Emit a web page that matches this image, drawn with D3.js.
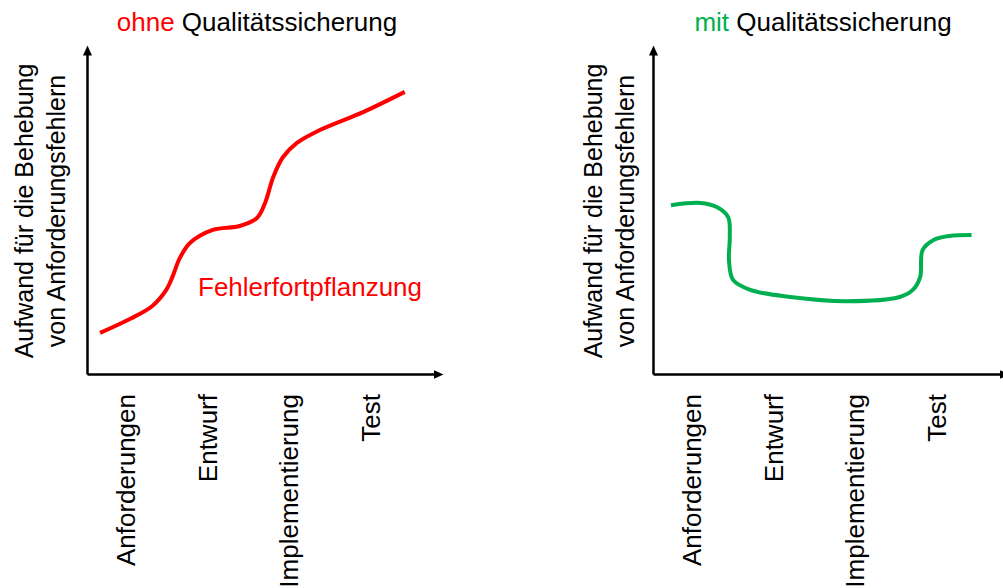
<!DOCTYPE html>
<html>
<head>
<meta charset="utf-8">
<script src="https://cdn.jsdelivr.net/npm/d3@7"></script>
<style>
  html, body { margin: 0; padding: 0; background: #fff; }
  svg { display: block; font-family: "Liberation Sans", Arial, sans-serif; }
</style>
</head>
<body>
<svg id="chart" width="1003" height="588"></svg>
<script>
// ---- data ----
const phases = ["Anforderungen", "Entwurf", "Implementierung", "Test"];
const yLabelLines = ["Aufwand für die Behebung", "von Anforderungsfehlern"];
const titleLeftPrefix = "ohne";
const titleRightPrefix = "mit";
const titleSuffix = " Qualitätssicherung";
const annotation = "Fehlerfortpflanzung";

// curve without QA (x in phase units, y in effort units 0..10)
const ohneX = [-0.31, 0.06, 0.33, 0.50, 0.58, 0.66, 0.79, 1.07, 1.40, 1.61, 1.71, 1.81, 1.93, 2.10, 2.38, 2.91, 3.42];
const ohneY = [1.28, 1.72, 2.12, 2.62, 3.05, 3.58, 4.08, 4.49, 4.61, 4.86, 5.33, 6.14, 6.76, 7.20, 7.60, 8.16, 8.79];

// curve with QA
const mitX = [-0.25, 0.11, 0.31, 0.45, 0.47, 0.46, 0.51, 0.72, 1.21, 1.90, 2.55, 2.71, 2.80, 2.83, 2.96, 3.16, 3.43];
const mitY = [5.26, 5.33, 5.20, 4.89, 4.27, 3.55, 2.93, 2.62, 2.40, 2.27, 2.40, 2.62, 3.02, 3.86, 4.17, 4.30, 4.33];

const redColor = "#ff0000";
const greenColor = "#00b050";

const svg = d3.select("#chart");

const defs = svg.append("defs");
defs.append("marker")
  .attr("id", "arrow")
  .attr("viewBox", "0 -5 10 10")
  .attr("refX", 2).attr("refY", 0)
  .attr("markerWidth", 10).attr("markerHeight", 10)
  .attr("markerUnits", "userSpaceOnUse")
  .attr("orient", "auto")
  .append("path")
  .attr("d", "M0,-4.5L10,0L0,4.5Z")
  .attr("fill", "#000");

const yScale = d3.scaleLinear().domain([0, 10]).range([374, 53]);

function panel(cfg) {
  const x = d3.scaleLinear().domain([-0.47, 3.79]).range([cfg.x0, cfg.x0 + 348]);
  const g = svg.append("g");

  // title
  const t = g.append("text")
    .attr("x", cfg.titleX).attr("y", 31)
    .attr("text-anchor", "middle")
    .attr("font-size", 26);
  t.append("tspan").attr("fill", cfg.color).text(cfg.prefix);
  t.append("tspan").attr("fill", "#000").text(titleSuffix);

  // y axis
  const ya = g.append("g").attr("transform", `translate(${cfg.x0},0)`)
    .call(d3.axisLeft(yScale).tickValues([]).tickSizeOuter(0));
  ya.select(".domain").attr("stroke", "#000").attr("stroke-width", 2.5)
    .attr("marker-end", "url(#arrow)");

  // x axis
  const xa = g.append("g").attr("transform", `translate(0,${yScale(0)})`)
    .call(d3.axisBottom(x).tickValues(d3.range(phases.length)).tickSize(0)
      .tickSizeOuter(0).tickFormat(i => phases[i]));
  xa.select(".domain").attr("stroke", "#000").attr("stroke-width", 2.5)
    .attr("marker-end", "url(#arrow)");
  xa.selectAll(".tick text")
    .attr("font-size", 26)
    .attr("font-family", "'Liberation Sans', Arial, sans-serif")
    .attr("fill", "#000")
    .attr("text-anchor", "end")
    .attr("dy", null)
    .attr("y", null)
    .attr("transform", "translate(9,20) rotate(-90)");

  // y label
  const yl = g.append("text")
    .attr("transform", `translate(${cfg.labelX},211) rotate(-90)`)
    .attr("text-anchor", "middle")
    .attr("font-size", 25)
    .attr("fill", "#000");
  yLabelLines.forEach((s, i) => {
    yl.append("tspan").attr("x", 0).attr("y", i * 32).text(s);
  });

  // curve
  const pts = cfg.xs.map((v, i) => [v, cfg.ys[i]]);
  const line = d3.line().x(d => x(d[0])).y(d => yScale(d[1])).curve(d3.curveCatmullRom.alpha(0.5));
  g.append("path").datum(pts)
    .attr("d", line)
    .attr("fill", "none")
    .attr("stroke", cfg.color)
    .attr("stroke-width", 4)
    .attr("stroke-linecap", "butt");

  return { g, x };
}

const left = panel({ x0: 87, titleX: 257, prefix: titleLeftPrefix, color: redColor, labelX: 33, xs: ohneX, ys: ohneY });
panel({ x0: 653, titleX: 823, prefix: titleRightPrefix, color: greenColor, labelX: 602, xs: mitX, ys: mitY });

left.g.append("text")
  .attr("x", 198).attr("y", 296)
  .attr("font-size", 26)
  .attr("fill", redColor)
  .text(annotation);
</script>
</body>
</html>
